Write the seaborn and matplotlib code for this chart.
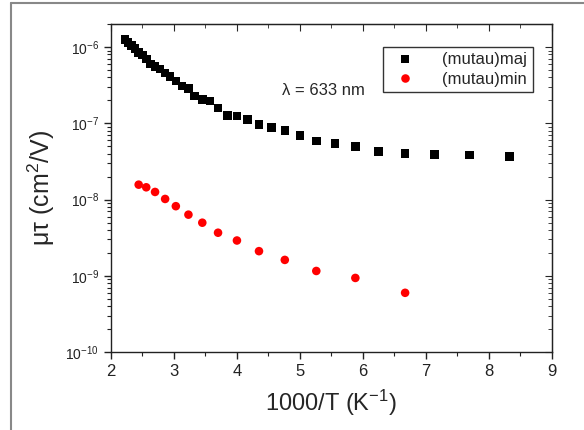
import numpy as np
import pandas as pd
import matplotlib
matplotlib.use("Agg")
import matplotlib.pyplot as plt
from matplotlib.lines import Line2D
from matplotlib.ticker import LogLocator, MultipleLocator, NullFormatter
import seaborn as sns

sns.set_style("ticks")
plt.rcParams['font.family'] = ['Liberation Sans', 'DejaVu Sans']
plt.rcParams['mathtext.fontset'] = 'custom'
plt.rcParams['mathtext.rm'] = 'Liberation Sans'
plt.rcParams['mathtext.it'] = 'Liberation Sans:italic'

# (mutau)maj, 1000/T in K^-1 and mu*tau in cm^2/V
inv_t_maj = [2.22, 2.27, 2.33, 2.38, 2.44, 2.50, 2.56, 2.63, 2.70, 2.78,
             2.86, 2.94, 3.03, 3.13, 3.23, 3.33, 3.45, 3.57, 3.70, 3.85,
             4.00, 4.17, 4.35, 4.55, 4.76, 5.00, 5.26, 5.56, 5.88, 6.25,
             6.67, 7.14, 7.69, 8.33]
mutau_maj = [1.25e-6, 1.15e-6, 1.04e-6, 9.6e-7, 8.5e-7, 7.85e-7, 6.95e-7, 5.97e-7, 5.57e-7, 5.14e-7,
             4.55e-7, 4.11e-7, 3.60e-7, 3.10e-7, 2.86e-7, 2.27e-7, 2.05e-7, 1.96e-7, 1.59e-7, 1.27e-7,
             1.24e-7, 1.13e-7, 9.7e-8, 8.8e-8, 8.1e-8, 6.95e-8, 5.9e-8, 5.45e-8, 5.0e-8, 4.3e-8,
             4.0e-8, 3.9e-8, 3.85e-8, 3.65e-8]

# (mutau)min
inv_t_min = [2.44, 2.56, 2.70, 2.86, 3.03, 3.23, 3.45, 3.70, 4.00, 4.35,
             4.76, 5.26, 5.88, 6.67]
mutau_min = [1.57e-8, 1.45e-8, 1.26e-8, 1.02e-8, 8.2e-9, 6.35e-9, 4.98e-9, 3.68e-9, 2.91e-9, 2.11e-9,
             1.62e-9, 1.16e-9, 9.4e-10, 6.0e-10]

df = pd.concat([
    pd.DataFrame({"x": inv_t_maj, "y": mutau_maj, "series": "(mutau)maj"}),
    pd.DataFrame({"x": inv_t_min, "y": mutau_min, "series": "(mutau)min"}),
], ignore_index=True)

fig = plt.figure(figsize=(5.84, 4.30), dpi=100)
ax = fig.add_axes([0.190, 0.181, 0.755, 0.763])

sns.scatterplot(data=df, x="x", y="y", hue="series", style="series",
                palette={"(mutau)maj": "black", "(mutau)min": "#ff0000"},
                markers={"(mutau)maj": "s", "(mutau)min": "o"},
                s=38, linewidth=0, ax=ax)

ax.set_yscale("log")
ax.set_xlim(2, 9)
ax.set_ylim(1e-10, 2e-6)
ax.xaxis.set_major_locator(MultipleLocator(1))
ax.xaxis.set_minor_locator(MultipleLocator(0.5))
ax.yaxis.set_major_locator(LogLocator(base=10, numticks=10))
ax.yaxis.set_minor_locator(LogLocator(base=10, subs=np.arange(2, 10), numticks=20))
ax.yaxis.set_minor_formatter(NullFormatter())

ax.tick_params(which="both", direction="out", top=False, right=False, labelsize=12, colors="#222222")
ax.tick_params(which="major", length=5, width=1)
ax.tick_params(which="minor", length=3, width=0.8)
ax.tick_params(axis="y", labelsize=10)

# mirrored inward ticks on top and right
ax_top = ax.secondary_xaxis("top")
ax_top.xaxis.set_major_locator(MultipleLocator(1))
ax_top.xaxis.set_minor_locator(MultipleLocator(0.5))
ax_top.tick_params(which="both", direction="in", labeltop=False)
ax_top.tick_params(which="major", length=5)
ax_top.tick_params(which="minor", length=3)
ax_right = ax.secondary_yaxis("right")
ax_right.set_yscale("log")
ax_right.yaxis.set_major_locator(LogLocator(base=10, numticks=10))
ax_right.yaxis.set_minor_locator(LogLocator(base=10, subs=np.arange(2, 10), numticks=20))
ax_right.yaxis.set_minor_formatter(NullFormatter())
ax_right.tick_params(which="both", direction="in", labelright=False)
ax_right.tick_params(which="major", length=5)
ax_right.tick_params(which="minor", length=3)

for sp in list(ax.spines.values()):
    sp.set_linewidth(1)
    sp.set_color("#222222")

ax.set_xlabel("1000/T (K$^{-1}$)", fontsize=17, labelpad=6)
ax.set_ylabel("μτ (cm$^{2}$/V)", fontsize=18, labelpad=6)

ax.text(0.388, 0.798, "λ = 633 nm", transform=ax.transAxes, fontsize=12,
        ha="left", va="center")

leg = ax.legend(loc="upper right", bbox_to_anchor=(0.975, 0.957), fontsize=12,
                frameon=True, fancybox=False, edgecolor="black",
                handletextpad=1.2, borderpad=0.35, labelspacing=0.25)
leg.get_frame().set_linewidth(1)

# outer frame lines of the original graph page
fig.add_artist(Line2D([0.018, 0.018], [0, 0.993], color="#888888", lw=1.5))
fig.add_artist(Line2D([0.018, 1.0], [0.993, 0.993], color="#888888", lw=1.5))

fig.savefig("out.png", dpi=100)
